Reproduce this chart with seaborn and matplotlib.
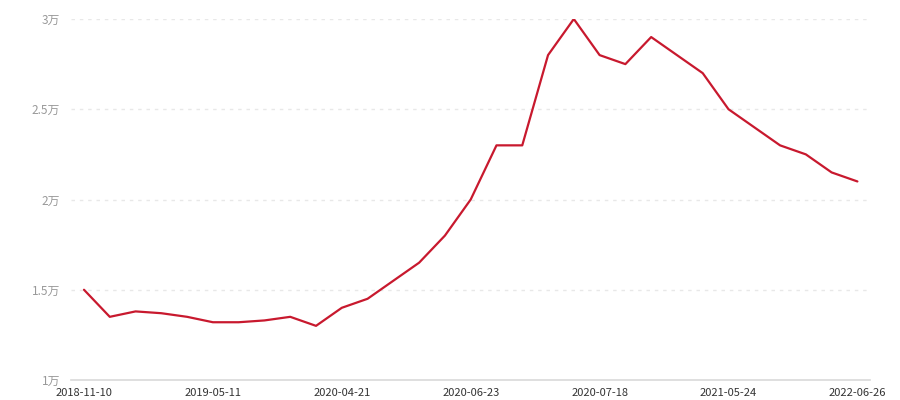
import matplotlib
matplotlib.use("Agg")
import matplotlib.pyplot as plt
import seaborn as sns
import pandas as pd

# values in 万, one per period
values = [1.50, 1.35, 1.38, 1.37, 1.35, 1.32, 1.32, 1.33, 1.35, 1.30,
          1.40, 1.45, 1.55, 1.65, 1.80, 2.00, 2.30, 2.30, 2.80, 3.00,
          2.80, 2.75, 2.90, 2.80, 2.70, 2.50, 2.40, 2.30, 2.25, 2.15, 2.10]
tick_labels = ['2018-11-10', '2019-05-11', '2020-04-21', '2020-06-23',
               '2020-07-18', '2021-05-24', '2022-06-26']
y_ticks = [1, 1.5, 2, 2.5, 3]
y_labels = ['1万', '1.5万', '2万', '2.5万', '3万']

df = pd.DataFrame({'idx': range(len(values)), 'value': values})

sns.set_style('white')
plt.rcParams['font.family'] = ['Noto Sans CJK SC', 'DejaVu Sans']

fig = plt.figure(figsize=(9, 4), dpi=100)
ax = fig.add_axes([0.079, 0.05, 0.888, 0.9025])

sns.lineplot(data=df, x='idx', y='value', ax=ax, color='#c8192e', linewidth=1.6)

ax.set_xlim(-0.5, len(values) - 0.5)
ax.set_ylim(1, 3)
ax.set_xticks(range(0, len(values), 5))
ax.set_xticklabels(tick_labels)
ax.set_yticks(y_ticks)
ax.set_yticklabels(y_labels)
ax.set_xlabel('')
ax.set_ylabel('')

for y in y_ticks[1:]:
    ax.axhline(y, color='#e8e8e8', linewidth=1, linestyle=(0, (2.5, 3.5)), zorder=0)

for s in ['top', 'right', 'left']:
    ax.spines[s].set_visible(False)
ax.spines['bottom'].set_color('#d9d9d9')
ax.spines['bottom'].set_linewidth(1.2)

ax.tick_params(axis='x', length=4, width=1, color='#d9d9d9', labelsize=8,
               labelcolor='#333333', pad=1.5, direction='out')
ax.tick_params(axis='y', length=0, labelsize=8.5, labelcolor='#999999', pad=8)

fig.savefig('out.png', dpi=100)
